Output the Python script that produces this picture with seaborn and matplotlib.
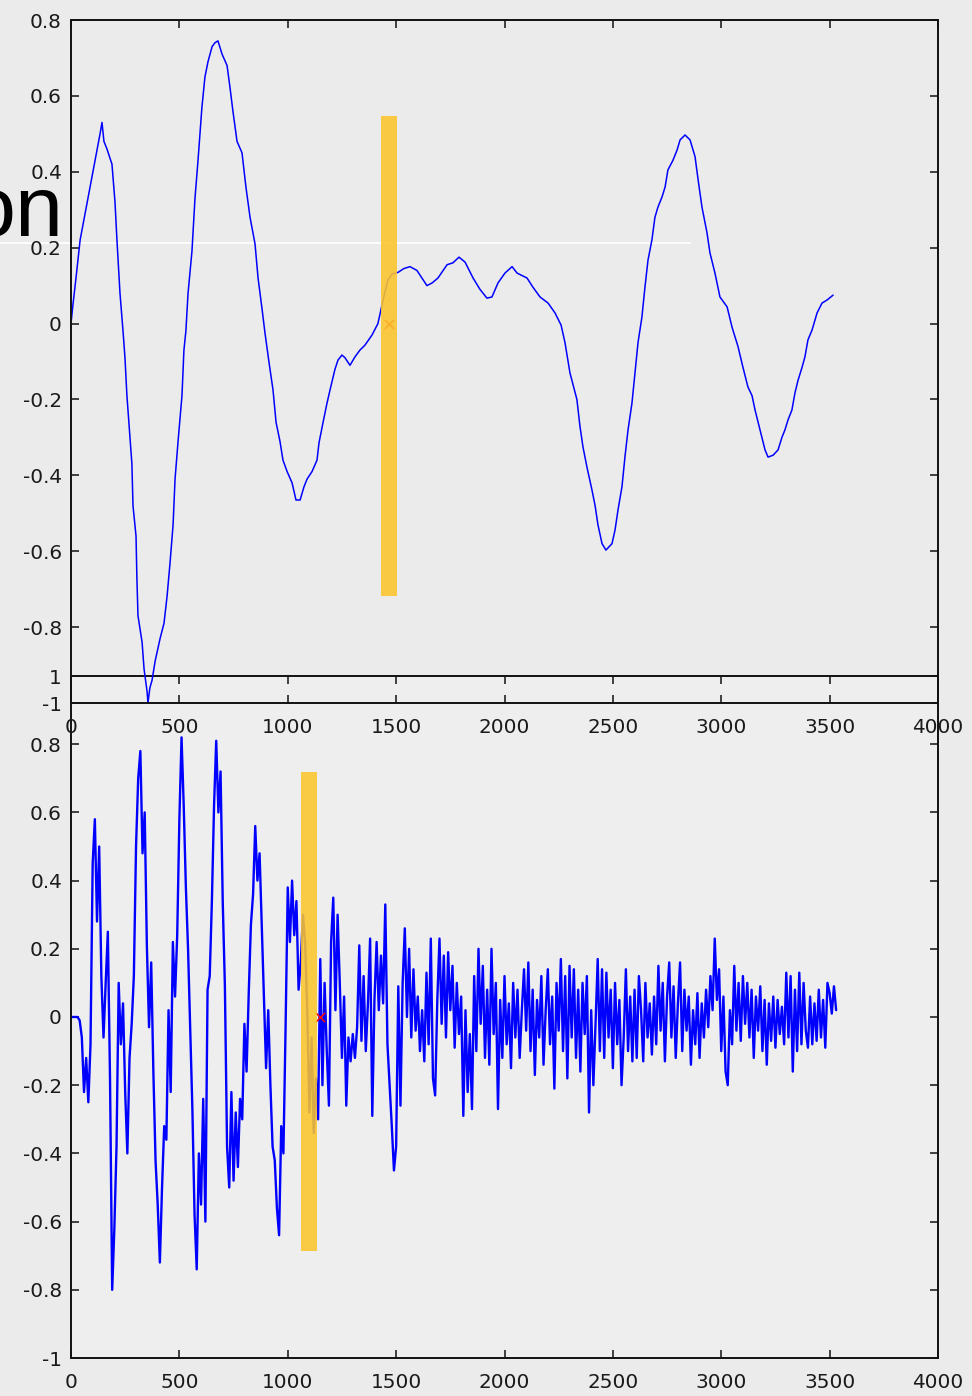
import numpy as np
import pandas as pd
import matplotlib
matplotlib.use('Agg')
import matplotlib.pyplot as plt
import seaborn as sns
from matplotlib.patches import Rectangle
from matplotlib.lines import Line2D

# ---- data ----
# upper trace (smooth signal)
top_x = [0, 9, 23, 42, 65, 88, 111, 134, 143, 152, 166, 189, 203, 212, 226, 240, 249, 258, 268, 281,
         286, 300, 304, 309, 328, 337, 351, 355, 364, 374, 388, 411, 429, 443, 457, 471, 480, 494, 512, 521,
         530, 540, 558, 572, 586, 604, 618, 632, 651, 664, 678, 697, 720, 734, 747, 766, 789, 807, 826, 849,
         863, 881, 895, 913, 932, 946, 964, 978, 997, 1020, 1038, 1057, 1075, 1089, 1112, 1135, 1144, 1163,
         1181, 1195, 1218, 1232, 1250, 1264, 1287, 1310, 1333, 1356, 1389, 1416, 1439, 1462, 1481, 1509,
         1536, 1564, 1596, 1619, 1642, 1666, 1693, 1735, 1762, 1790, 1818, 1855, 1887, 1919, 1942, 1970,
         2002, 2035, 2058, 2104, 2131, 2164, 2201, 2233, 2261, 2279, 2302, 2334, 2348, 2362, 2381, 2404,
         2418, 2431, 2450, 2468, 2496, 2510, 2524, 2542, 2556, 2570, 2588, 2602, 2616, 2634, 2648, 2662,
         2680, 2694, 2708, 2727, 2741, 2754, 2777, 2796, 2810, 2833, 2856, 2879, 2893, 2911, 2934, 2948,
         2971, 2994, 3027, 3050, 3077, 3100, 3123, 3142, 3156, 3170, 3188, 3202, 3216, 3239, 3262, 3280,
         3294, 3308, 3326, 3340, 3354, 3373, 3386, 3400, 3419, 3442, 3465, 3488, 3516]
top_y = [0.0, 0.05, 0.12, 0.22, 0.29, 0.36, 0.43, 0.50, 0.53, 0.48, 0.46, 0.42, 0.32, 0.22, 0.08, -0.02,
         -0.09, -0.19, -0.27, -0.37, -0.48, -0.56, -0.67, -0.77, -0.84, -0.91, -0.97, -1.0, -0.96, -0.94,
         -0.89, -0.83, -0.79, -0.72, -0.63, -0.53, -0.41, -0.31, -0.19, -0.07, -0.02, 0.08, 0.19, 0.33,
         0.43, 0.57, 0.65, 0.69, 0.73, 0.74, 0.745, 0.71, 0.68, 0.62, 0.56, 0.48, 0.45, 0.36, 0.28, 0.21,
         0.12, 0.04, -0.025, -0.10, -0.175, -0.26, -0.31, -0.36, -0.39, -0.42, -0.465, -0.465, -0.43,
         -0.41, -0.39, -0.36, -0.315, -0.26, -0.21, -0.175, -0.12, -0.096, -0.083, -0.09, -0.11, -0.088,
         -0.07, -0.057, -0.03, 0.0, 0.06, 0.115, 0.13, 0.135, 0.145, 0.15, 0.14, 0.12, 0.10, 0.107, 0.12,
         0.155, 0.16, 0.175, 0.162, 0.12, 0.09, 0.067, 0.07, 0.107, 0.133, 0.15, 0.133, 0.12, 0.096, 0.07,
         0.054, 0.028, -0.004, -0.05, -0.13, -0.20, -0.27, -0.325, -0.38, -0.44, -0.48, -0.53, -0.58,
         -0.597, -0.58, -0.544, -0.49, -0.43, -0.35, -0.28, -0.21, -0.13, -0.05, 0.017, 0.096, 0.167,
         0.22, 0.28, 0.307, 0.334, 0.36, 0.405, 0.43, 0.457, 0.484, 0.497, 0.484, 0.44, 0.38, 0.307, 0.24,
         0.186, 0.133, 0.07, 0.044, -0.01, -0.06, -0.115, -0.167, -0.19, -0.228, -0.26, -0.30, -0.333,
         -0.352, -0.347, -0.333, -0.30, -0.28, -0.254, -0.228, -0.183, -0.15, -0.115, -0.088, -0.043,
         -0.017, 0.028, 0.054, 0.062, 0.075]

# lower trace (noisy signal), one reading every 10 samples
bottom_step = 10
bottom_y = [
    0, 0, 0, 0, -0.01, -0.06, -0.22, -0.12, -0.25, -0.08,
    0.45, 0.58, 0.28, 0.50, 0.12, -0.06, 0.10, 0.25, -0.18, -0.80,
    -0.62, -0.38, 0.10, -0.08, 0.04, -0.22, -0.40, -0.12, -0.02, 0.12,
    0.50, 0.70, 0.78, 0.48, 0.60, 0.21, -0.03, 0.16, -0.16, -0.42,
    -0.55, -0.72, -0.50, -0.32, -0.36, 0.02, -0.22, 0.22, 0.06, 0.24,
    0.58, 0.82, 0.62, 0.38, 0.20, -0.04, -0.27, -0.58, -0.74, -0.40,
    -0.55, -0.24, -0.60, 0.08, 0.12, 0.34, 0.62, 0.81, 0.60, 0.72,
    0.34, 0.09, -0.38, -0.50, -0.22, -0.48, -0.28, -0.44, -0.24, -0.30,
    -0.02, -0.16, 0.07, 0.27, 0.36, 0.56, 0.40, 0.48, 0.27, 0.05,
    -0.15, 0.02, -0.20, -0.38, -0.42, -0.56, -0.64, -0.32, -0.40, -0.03,
    0.38, 0.22, 0.40, 0.24, 0.34, 0.08, 0.16, 0.30, 0.22, 0.02,
    -0.28, -0.06, -0.34, -0.18, -0.30, 0.17, -0.20, 0.10, -0.10, -0.26,
    0.22, 0.35, 0.02, 0.30, 0.10, -0.12, 0.06, -0.26, -0.06, -0.13,
    -0.05, -0.12, -0.03, 0.21, -0.07, 0.12, -0.10, 0.04, 0.23, -0.29,
    0.05, 0.22, 0.02, 0.18, 0.04, 0.33, -0.08, -0.20, -0.32, -0.45,
    -0.38, 0.09, -0.26, 0.10, 0.26, 0.00, 0.20, -0.06, 0.14, -0.04,
    0.06, -0.10, 0.02, -0.13, 0.13, -0.08, 0.23, -0.18, -0.23, 0.05,
    0.23, -0.02, 0.18, -0.06, 0.19, 0.02, 0.15, -0.09, 0.10, -0.05,
    0.06, -0.29, 0.02, -0.22, -0.05, -0.27, 0.12, -0.10, 0.20, -0.02,
    0.15, -0.12, 0.08, -0.14, 0.20, -0.05, 0.10, -0.27, 0.05, -0.12,
    0.12, -0.08, 0.04, -0.15, 0.10, -0.06, 0.08, -0.12, 0.02, 0.14,
    -0.04, 0.16, -0.10, 0.08, -0.17, 0.05, -0.06, 0.12, -0.14, 0.02,
    0.14, -0.08, 0.06, -0.21, 0.10, -0.04, 0.17, -0.10, 0.12, -0.18,
    0.15, -0.06, 0.14, -0.12, 0.08, -0.16, 0.10, -0.05, 0.12, -0.28,
    0.02, -0.20, -0.02, 0.17, -0.10, 0.14, -0.12, 0.13, -0.06, 0.08,
    -0.15, 0.10, -0.08, 0.05, -0.20, -0.06, 0.14, -0.10, 0.06, -0.13,
    0.08, -0.12, 0.12, 0.02, -0.13, 0.10, -0.06, 0.04, -0.11, 0.06,
    -0.08, 0.15, -0.04, 0.10, -0.13, 0.06, 0.16, -0.06, 0.09, -0.12,
    0.04, 0.16, -0.10, 0.08, -0.04, 0.06, -0.14, 0.02, -0.08, 0.07,
    -0.12, 0.04, -0.06, 0.08, -0.03, 0.12, 0.02, 0.23, 0.05, 0.14,
    -0.10, 0.06, -0.16, -0.20, 0.02, -0.08, 0.15, -0.04, 0.10, -0.07,
    0.12, -0.02, 0.10, -0.06, 0.08, -0.12, 0.06, -0.04, 0.09, -0.10,
    0.05, -0.14, 0.04, -0.07, 0.06, -0.09, 0.05, -0.05, 0.03, -0.08,
    0.13, -0.06, 0.12, -0.16, 0.08, -0.10, 0.13, -0.08, 0.10, -0.04,
    -0.09, 0.06, -0.08, 0.04, -0.07, 0.08, -0.06, 0.05, -0.09, 0.10,
    0.07, 0.01, 0.09, 0.02,
]
bottom_x = np.arange(len(bottom_y)) * bottom_step

xticks = [0, 500, 1000, 1500, 2000, 2500, 3000, 3500, 4000]
top_yticks = [-1, -0.8, -0.6, -0.4, -0.2, 0, 0.2, 0.4, 0.6, 0.8]
top_ylabels = ['-1', '-0.8', '-0.6', '-0.4', '-0.2', '0', '0.2', '0.4', '0.6', '0.8']
bottom_yticks = [-1, -0.8, -0.6, -0.4, -0.2, 0, 0.2, 0.4, 0.6, 0.8, 1]
bottom_ylabels = ['-1', '-0.8', '-0.6', '-0.4', '-0.2', '0', '0.2', '0.4', '0.6', '0.8', '1']

# highlighted windows: x0, x1, y0, y1 and the marked sample
top_window = [1430, 1504, -0.718, 0.547]
bottom_window = [1061, 1135, -0.686, 0.718]
top_mark = [1467, 0.0]
bottom_mark = [1149, 0.0]

df_top = pd.DataFrame({'t': top_x, 'v': top_y})
df_bottom = pd.DataFrame({'t': bottom_x, 'v': bottom_y})

sns.set_style('ticks')
plt.rcParams['font.family'] = ['DejaVu Sans']
plt.rcParams['axes.unicode_minus'] = False

W, H = 972, 1396
fig = plt.figure(figsize=(W / 100, H / 100), dpi=100)
fig.patch.set_facecolor('#ebebeb')

ax_bot = fig.add_axes([71 / W, 1 - 1358 / H, 867 / W, (1358 - 676) / H])
ax_top = fig.add_axes([71 / W, 1 - 703 / H, 867 / W, (703 - 20) / H], zorder=2)
ax_bot.set_facecolor('#eeeeee')
ax_top.set_facecolor('none')

sns.lineplot(ax=ax_top, data=df_top, x='t', y='v', color='#0000ff', linewidth=1.1,
             estimator=None, sort=False, errorbar=None)
sns.lineplot(ax=ax_bot, data=df_bottom, x='t', y='v', color='#0000ff', linewidth=1.7,
             estimator=None, sort=False, errorbar=None)

for ax, mark, win in [(ax_top, top_mark, top_window), (ax_bot, bottom_mark, bottom_window)]:
    ax.scatter([mark[0]], [mark[1]], marker='x', color='red', s=45, linewidths=1.1, zorder=3)
    ax.add_patch(Rectangle((win[0], win[2]), win[1] - win[0], win[3] - win[2],
                           facecolor='#fbc52c', edgecolor='none', alpha=0.88, zorder=4))


def style_axes(ax, ylim, yticks, ylabels):
    ax.set_xlim(0, 4000)
    ax.set_ylim(*ylim)
    ax.set_xticks(xticks)
    ax.set_xticklabels([str(t) for t in xticks])
    ax.set_yticks(yticks)
    ax.set_yticklabels(ylabels)
    ax.set_xlabel('')
    ax.set_ylabel('')
    ax.grid(False)
    ax.tick_params(direction='in', length=6, width=1.1, top=True, right=True,
                   labelsize=14.4, labelcolor='#1a1a1a', color='#111111')
    ax.tick_params(axis='x', pad=10.5)
    ax.tick_params(axis='y', pad=6.5)
    for sp in ax.spines.values():
        sp.set_visible(True)
        sp.set_linewidth(1.4)
        sp.set_color('#111111')


style_axes(ax_top, (-1, 0.8), top_yticks, top_ylabels)
style_axes(ax_bot, (-1, 1), bottom_yticks, bottom_ylabels)

# slide leftovers: a pale rule and the tail of a title word
fig.add_artist(Line2D([0, 690 / W], [1 - 243 / H, 1 - 243 / H], color='white',
                      linewidth=1.5, alpha=0.9, zorder=-1))
fig.text(63 / W, 1 - 236 / H, 'on', ha='right', va='baseline', fontsize=62,
         family='Liberation Sans', color='black')

fig.savefig('out.png', dpi=100, facecolor=fig.get_facecolor())
